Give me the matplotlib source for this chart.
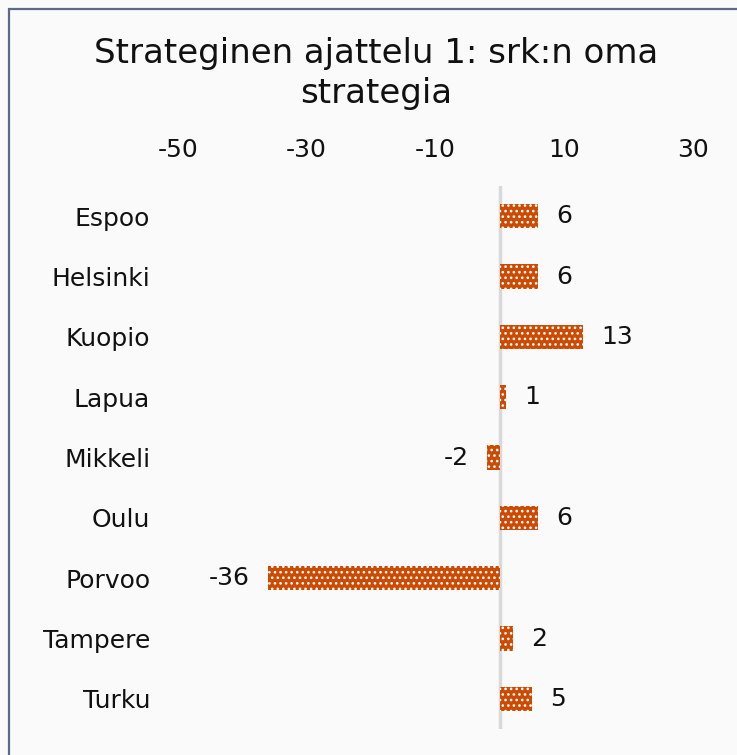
import matplotlib
matplotlib.use("Agg")
import matplotlib.pyplot as plt
from matplotlib.patches import Rectangle

plt.rcParams['font.family'] = ['DejaVu Sans']
plt.rcParams['hatch.linewidth'] = 1.1
plt.rcParams['hatch.color'] = 'white'

cities = ["Espoo", "Helsinki", "Kuopio", "Lapua", "Mikkeli",
          "Oulu", "Porvoo", "Tampere", "Turku"]
values = [6, 6, 13, 1, -2, 6, -36, 2, 5]
tick_values = [-50, -30, -10, 10, 30]

bg = "#fafafa"
bar_color = "#cc4a02"
text_color = "#111111"

fig = plt.figure(figsize=(7.37, 7.55), dpi=100, facecolor=bg)
ax = fig.add_axes([0.2415, 0.0344, 0.6985, 0.7192], facecolor=bg)

ypos = list(range(len(cities)))
bars = ax.barh(ypos, values, height=0.4, color=bar_color,
               edgecolor="white", linewidth=0, hatch="...", zorder=3)
ax.bar_label(bars, labels=[str(v) for v in values], padding=13,
             fontsize=18, color=text_color)

ax.axvline(0, color="#d9d9d9", lw=2.5, zorder=2)

ax.set_xlim(-50, 30)
ax.set_ylim(len(cities) - 0.5, -0.5)
ax.set_yticks(ypos)
ax.set_yticklabels(cities, fontsize=18, color=text_color)
ax.set_xticks(tick_values)
ax.set_xticklabels([str(t) for t in tick_values], fontsize=18, color=text_color)
ax.xaxis.tick_top()
ax.tick_params(axis="both", length=0)
ax.tick_params(axis="x", pad=17)
ax.tick_params(axis="y", pad=20)
for s in ax.spines.values():
    s.set_visible(False)

fig.text(0.510, 1 - 63 / 755, "Strateginen ajattelu 1: srk:n oma",
         ha="center", va="baseline", fontsize=24.5, color=text_color)
fig.text(0.510, 1 - 103 / 755, "strategia",
         ha="center", va="baseline", fontsize=24.5, color=text_color)

fig.patches.append(Rectangle((9 / 737, -0.05), 1.1, 1 - 9 / 755 + 0.05,
                             transform=fig.transFigure, fill=False,
                             edgecolor="#5b6b86", lw=1.6))

fig.savefig("out.png", dpi=100, facecolor=bg)
